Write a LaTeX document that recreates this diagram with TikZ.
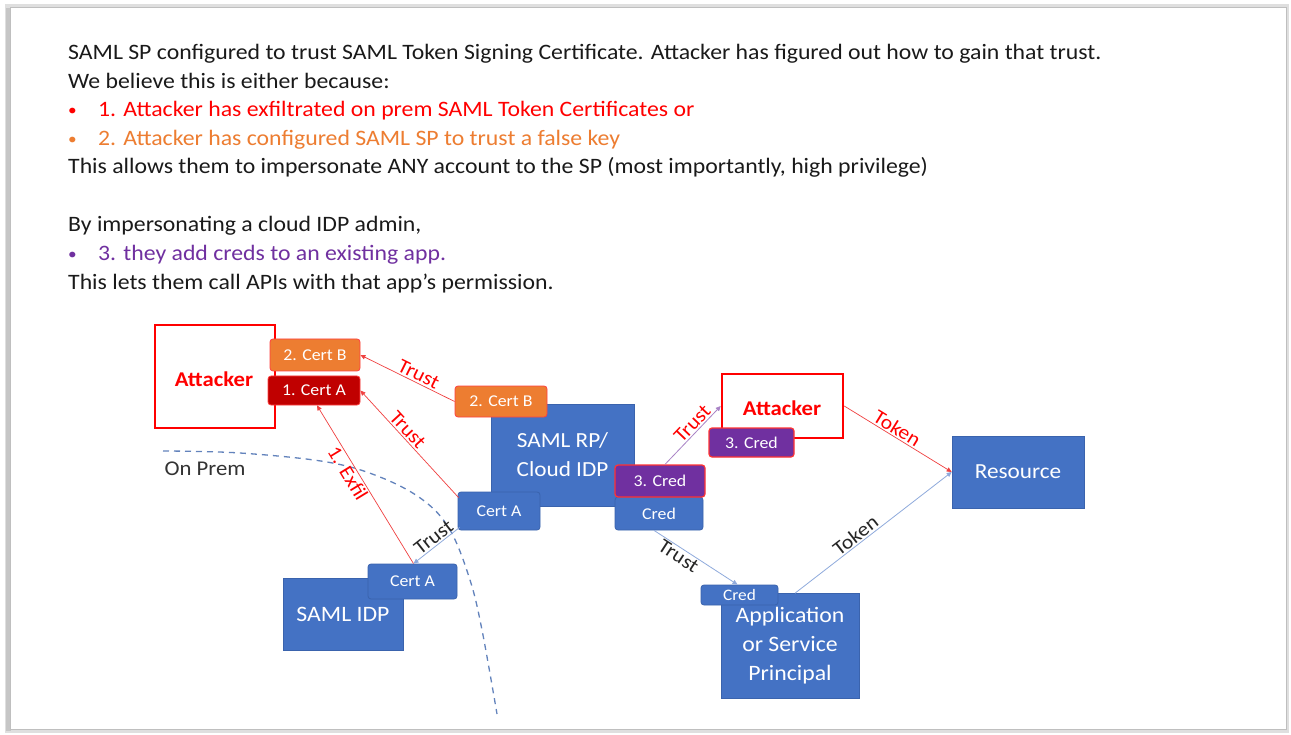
\documentclass[tikz,border=0pt]{standalone}
\usepackage{fontspec}
\setmainfont{Carlito}[FakeStretch=1.08]
\usetikzlibrary{arrows.meta}
\definecolor{bluebox}{HTML}{4472C4}
\definecolor{blueedge}{HTML}{3A63AD}
\definecolor{orangebox}{HTML}{ED7D31}
\definecolor{darkredbox}{HTML}{C00000}
\definecolor{purp}{HTML}{7030A0}
\definecolor{lineblue}{HTML}{8FAADC}
\definecolor{redline}{HTML}{F04040}
\definecolor{bodytxt}{HTML}{1A1A1A}
\definecolor{dashblue}{HTML}{6383BC}
\definecolor{orangetxt}{HTML}{ED7D31}
\tikzset{
  bodyline/.style={anchor=base west, inner sep=0pt, font=\fontsize{22}{26}\selectfont, text=bodytxt},
  attbox/.style={draw=red, line width=2.5pt, fill=white, inner sep=0pt},
  atttext/.style={text=red, font=\fontsize{21}{24}\selectfont\bfseries, inner sep=0pt},
  bigbox/.style={fill=bluebox, draw=blueedge, line width=0.6pt, inner sep=0pt, text=white, align=center, font=\fontsize{21.5}{29}\selectfont},
  certbox/.style={rounded corners=3pt, inner sep=0pt, text=white, font=\fontsize{16.5}{18}\selectfont, line width=0.8pt},
  bluecert/.style={certbox, fill=bluebox, draw=blueedge},
  orangecert/.style={certbox, fill=orangebox, draw=red!75},
  redcert/.style={certbox, fill=darkredbox, draw=red!75},
  purpcert/.style={certbox, fill=purp, draw=red!80, line width=1.2pt},
  tip/.style={-{Triangle[length=5pt,width=4.5pt]}},
  redarrow/.style={tip, draw=redline, line width=0.7pt},
  bluearrow/.style={tip, draw=lineblue, line width=0.8pt},
  purparrow/.style={tip, draw=purp!60, line width=0.8pt},
  lbl/.style={sloped, font=\fontsize{20}{22}\selectfont, inner sep=1.5pt},
}
\begin{document}
\begin{tikzpicture}[x=1pt,y=-1pt]
\useasboundingbox (0,0) rectangle (1291,735);
% slide frame
\fill[gray!25] (5,4) rectangle (1289,733);
\fill[gray!45] (6,8) rectangle (11,731);
\filldraw[fill=white, draw=gray!50, line width=0.5pt] (10,7) rectangle (1286,729);

% body text
\node[bodyline] (t1) at (68,60) {SAML SP configured to trust SAML Token Signing Certificate. Attacker has figured out how to gain that trust.};
\node[bodyline] (t2) at (68,89) {We believe this is either because:};
\node[bodyline, text=red, font=\fontsize{16}{20}\selectfont] (b3) at (68,116) {•};
\node[bodyline, text=red] (t3) at (98,117) {1. Attacker has exfiltrated on prem SAML Token Certificates or};
\node[bodyline, text=orangetxt, font=\fontsize{16}{20}\selectfont] (b4) at (68,145) {•};
\node[bodyline, text=orangetxt] (t4) at (98,146) {2. Attacker has configured SAML SP to trust a false key};
\node[bodyline] (t5) at (68,174) {This allows them to impersonate ANY account to the SP (most importantly, high privilege)};
\node[bodyline] (t6) at (68,232) {By impersonating a cloud IDP admin,};
\node[bodyline, text=purp, font=\fontsize{16}{20}\selectfont] (b7) at (68,260) {•};
\node[bodyline, text=purp] (t7) at (98,261) {3. they add creds to an existing app.};
\node[bodyline] (t8) at (68,290) {This lets them call APIs with that app’s permission.};

% on prem boundary
\draw[dashblue, line width=1.3pt, dash pattern=on 6pt off 5pt]
  plot[smooth, tension=0.6] coordinates {(163,451) (240,453) (327,462) (380,477) (423,500) (450,530) (470,580) (482,630) (497,714)};
\node[font=\fontsize{21}{24}\selectfont, text=black!80, inner sep=0pt] (onprem) at (205,469) {On Prem};

% left attacker
\node[attbox, minimum width=120pt, minimum height=103pt] (attL) at (215,376.5) {};
\node[atttext] (attLt) at (214,379) {Attacker};
\node[orangecert, minimum width=90pt, minimum height=32pt] (certBL) at (315,355) {2. Cert B};
\node[redcert, minimum width=92pt, minimum height=29pt] (certAL) at (314,390.5) {1. Cert A};

% SAML RP / Cloud IDP
\node[bigbox, minimum width=143pt, minimum height=102pt] (rp) at (562.5,455) {SAML RP/\\Cloud IDP};
\node[orangecert, minimum width=92pt, minimum height=31pt] (certBR) at (501,401.5) {2. Cert B};
\node[bluecert, minimum width=82pt, minimum height=38pt] (certAC) at (499,511) {Cert A};
\node[bluecert, minimum width=88pt, minimum height=33pt] (credC) at (659,513.5) {Cred};
\node[purpcert, minimum width=90pt, minimum height=32pt] (cred3) at (660,481) {3. Cred};

% right attacker
\node[attbox, minimum width=121pt, minimum height=64pt] (attR) at (782.5,406) {};
\node[atttext] (attRt) at (782,408) {Attacker};
\node[purpcert, minimum width=85pt, minimum height=29pt] (cred3R) at (751.5,442.5) {3. Cred};

% resource
\node[bigbox, minimum width=132pt, minimum height=72pt] (res) at (1018,472) {Resource};

% application
\node[bigbox, minimum width=138pt, minimum height=105pt, font=\fontsize{22}{29}\selectfont] (app) at (790,646) {Application\\or Service\\Principal};
\node[bluecert, minimum width=77pt, minimum height=20pt, font=\fontsize{16}{16}\selectfont] (credA) at (739.5,595) {Cred};

% SAML IDP
\node[bigbox, minimum width=120pt, minimum height=72pt, font=\fontsize{22}{26}\selectfont] (idp) at (343,614) {SAML IDP};
\node[bluecert, minimum width=89pt, minimum height=35pt] (certAI) at (412.5,581.5) {Cert A};

% connectors
\coordinate (certACnw) at ([xshift=1pt,yshift=-6pt]certAC.north west);
\coordinate (certALbot) at ([xshift=3pt]certAL.south);
\coordinate (certAItop) at ([xshift=1pt]certAI.north);
\coordinate (certACsw) at ([xshift=2pt,yshift=3pt]certAC.south west);
\coordinate (cred3top) at ([xshift=5pt]cred3.north);
\coordinate (credCbot) at ([xshift=-5pt]credC.south);
\coordinate (credAtop) at ([xshift=-2pt]credA.north);
\coordinate (appTop) at ([xshift=5pt]app.north);

\draw[redarrow] (certBR.west) -- node[lbl, above, text=red, pos=0.42] {Trust} (certBL.east);
\draw[redarrow] (certACnw) -- node[lbl, above, text=red, pos=0.58] {Trust} (certAL.east);
\draw[redarrow] (certAItop) -- node[lbl, below, text=red, pos=0.6] {1. Exfil} (certALbot);
\draw[bluearrow] (certACsw) -- node[lbl, above, text=black!85, pos=0.45] {Trust} (certAItop);
\draw[purparrow] (cred3top) -- node[lbl, above, text=red, pos=0.6] {Trust} (attR.west);
\draw[redarrow] (attR.east) -- node[lbl, above, text=red, pos=0.45] {Token} (res.west);
\draw[bluearrow] (appTop) -- node[lbl, above, text=black!85, pos=0.42] {Token} (res.west);
\draw[bluearrow] (credCbot) -- node[lbl, below, text=black!85, pos=0.35] {Trust} (credAtop);
\end{tikzpicture}
\end{document}
